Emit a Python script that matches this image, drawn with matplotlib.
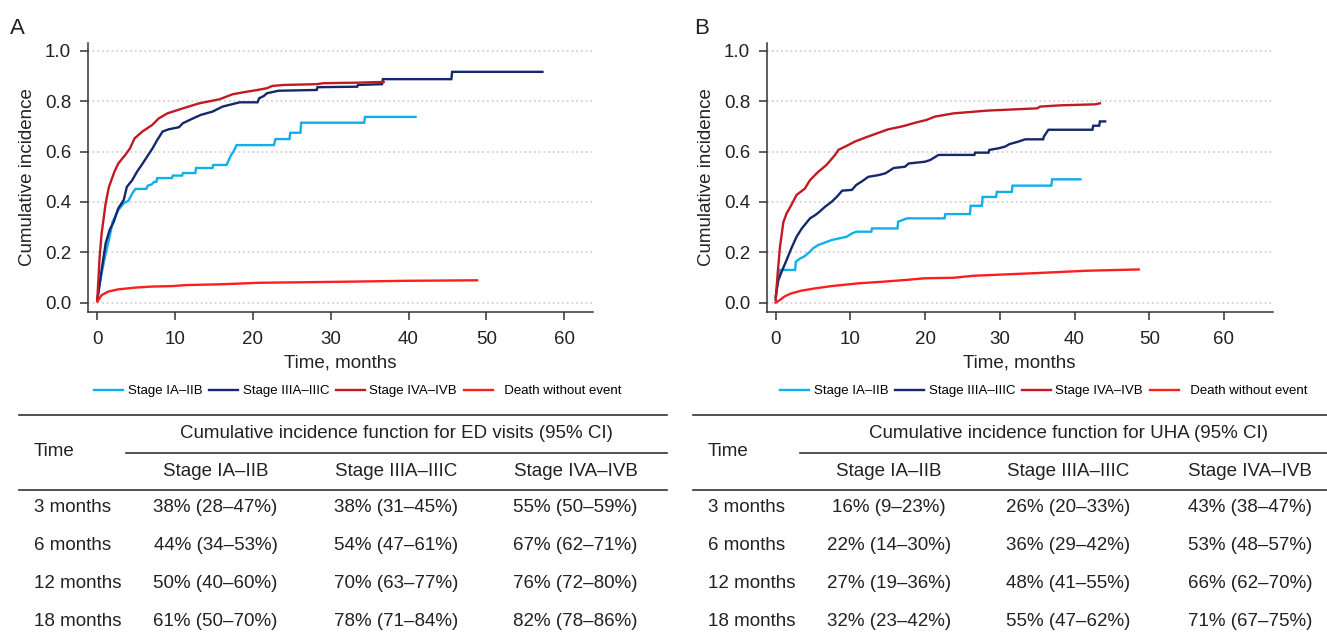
import numpy as np
import matplotlib
matplotlib.use("Agg")
import matplotlib.pyplot as plt
from matplotlib.lines import Line2D

plt.rcParams['font.family'] = ['Liberation Sans', 'DejaVu Sans']

W, H = 1327, 635

# ---- curve data (vertices: months, cumulative incidence)
a_early_t = [0, 0.3, 0.56, 1.08, 1.5, 1.86, 1.95, 2.7, 3.4, 4.0, 4.5, 4.9, 6.3, 6.5, 7.0, 7.3, 7.6, 7.7,
             9.6, 9.7, 10.9, 11.0, 12.6, 12.7, 14.8, 14.9, 16.6, 16.8, 17.2, 17.5, 17.9, 22.7, 22.9,
             24.7, 24.8, 26.1, 26.2, 34.3, 34.4, 40.9]
a_early_y = [0.01, 0.07, 0.117, 0.196, 0.25, 0.302, 0.32, 0.368, 0.395, 0.405, 0.434, 0.452, 0.452, 0.465,
             0.47, 0.48, 0.48, 0.495, 0.495, 0.505, 0.505, 0.515, 0.515, 0.535, 0.535, 0.547, 0.547, 0.56,
             0.587, 0.60, 0.626, 0.626, 0.65, 0.65, 0.675, 0.675, 0.715, 0.715, 0.738, 0.738]

a_mid_t = [0, 0.56, 1.08, 1.6, 2.1, 2.7, 3.4, 3.8, 4.5, 5.1, 5.7, 6.4, 7.1, 7.7, 8.4, 9.2, 10.5, 11.0, 12.3,
           13.3, 14.8, 16.1, 17.4, 18.3, 20.6, 20.8, 21.4, 21.8, 22.7, 23.3, 28.2, 28.3, 33.4, 33.5, 36.6,
           36.7, 45.5, 45.6, 57.2]
a_mid_y = [0.01, 0.13, 0.236, 0.29, 0.32, 0.375, 0.408, 0.46, 0.487, 0.52, 0.547, 0.58, 0.613, 0.646, 0.68,
           0.689, 0.697, 0.713, 0.732, 0.746, 0.759, 0.779, 0.789, 0.796, 0.796, 0.812, 0.821, 0.832, 0.838,
           0.842, 0.845, 0.856, 0.858, 0.865, 0.868, 0.888, 0.888, 0.917, 0.917]

a_late_t = [0, 0.3, 0.56, 1.08, 1.5, 2.2, 2.7, 3.6, 4.2, 4.8, 5.8, 7.06, 7.9, 9.0, 11, 13.1, 15.7, 17.4,
            19.2, 20.6, 21.8, 22.5, 24, 28.2, 29.1, 33.4, 36.8]
a_late_y = [0.01, 0.18, 0.275, 0.395, 0.46, 0.52, 0.553, 0.587, 0.613, 0.653, 0.68, 0.706, 0.732, 0.752,
            0.772, 0.792, 0.808, 0.828, 0.838, 0.845, 0.852, 0.861, 0.865, 0.868, 0.872, 0.874, 0.877]

a_death_t = [0, 0.56, 1.4, 2.7, 4.9, 7, 9.7, 11.4, 15.7, 19.2, 20.6, 31.2, 39.8, 48.8]
a_death_y = [0.004, 0.03, 0.044, 0.053, 0.06, 0.064, 0.066, 0.07, 0.073, 0.077, 0.079, 0.083, 0.087, 0.089]

b_early_t = [0, 0.27, 0.58, 2.6, 2.7, 3.3, 3.9, 4.6, 5.0, 5.7, 7.5, 9.5, 10.2, 10.8, 12.8, 12.9, 16.3,
             16.4, 17.6, 22.6, 22.7, 26.0, 26.1, 27.6, 27.7, 29.5, 29.6, 31.6, 31.7, 36.9, 37.0, 40.8]
b_early_y = [0.01, 0.09, 0.13, 0.13, 0.163, 0.176, 0.185, 0.203, 0.216, 0.229, 0.249, 0.262, 0.275, 0.282,
             0.282, 0.295, 0.295, 0.322, 0.335, 0.335, 0.352, 0.352, 0.385, 0.385, 0.42, 0.42, 0.44, 0.44,
             0.465, 0.465, 0.49, 0.49]

b_mid_t = [0, 0.36, 0.8, 1.47, 2.1, 2.8, 3.5, 4.6, 5.3, 5.9, 6.6, 7.5, 8.2, 8.9, 10.2, 10.8, 11.5, 12.4,
           13.8, 14.7, 15.8, 17.3, 17.8, 20.0, 20.7, 21.8, 26.6, 26.7, 28.5, 28.6, 29.8, 30.7, 31.3, 32.5,
           33.4, 35.8, 35.9, 36.5, 42.4, 42.5, 43.3, 43.4, 44.1]
b_mid_y = [0.024, 0.09, 0.123, 0.17, 0.216, 0.262, 0.295, 0.335, 0.348, 0.362, 0.381, 0.401, 0.421, 0.445,
           0.448, 0.468, 0.481, 0.5, 0.507, 0.514, 0.535, 0.54, 0.553, 0.56, 0.567, 0.587, 0.587, 0.596,
           0.596, 0.607, 0.613, 0.62, 0.63, 0.64, 0.649, 0.649, 0.66, 0.687, 0.687, 0.703, 0.703, 0.72, 0.72]

b_late_t = [0, 0.27, 0.58, 1.03, 1.47, 2.1, 2.8, 3.9, 4.6, 5.7, 6.8, 7.95, 8.4, 9.7, 10.6, 12, 13.3, 15.1,
            16.9, 18.7, 20.2, 21.3, 23.8, 28.3, 35, 35.4, 38.1, 42.8, 43.4]
b_late_y = [0.01, 0.117, 0.222, 0.32, 0.355, 0.388, 0.428, 0.453, 0.487, 0.52, 0.547, 0.587, 0.607, 0.626,
            0.64, 0.656, 0.67, 0.689, 0.7, 0.715, 0.726, 0.739, 0.752, 0.763, 0.772, 0.779, 0.784, 0.788, 0.792]

b_death_t = [0, 0.58, 1.25, 2.1, 3.5, 5.3, 7.5, 11.1, 14.2, 17.3, 20, 23.8, 26.5, 34.5, 41.7, 48.6]
b_death_y = [0.0, 0.011, 0.026, 0.037, 0.048, 0.057, 0.066, 0.077, 0.083, 0.09, 0.097, 0.099, 0.107,
             0.117, 0.127, 0.132]

series_names = ['Stage IA\u2013IIB', 'Stage IIIA\u2013IIIC', 'Stage IVA\u2013IVB', '  Death without event']
series_colors = ['#12AEEA', '#14286B', '#C21A22', '#FF1E1E']

# ---- table data
time_rows = ['3 months', '6 months', '12 months', '18 months']
stage_cols = ['Stage IA\u2013IIB', 'Stage IIIA\u2013IIIC', 'Stage IVA\u2013IVB']
ed_cif = [['38% (28\u201347%)', '38% (31\u201345%)', '55% (50\u201359%)'],
          ['44% (34\u201353%)', '54% (47\u201361%)', '67% (62\u201371%)'],
          ['50% (40\u201360%)', '70% (63\u201377%)', '76% (72\u201380%)'],
          ['61% (50\u201370%)', '78% (71\u201384%)', '82% (78\u201386%)']]
uha_cif = [['16% (9\u201323%)', '26% (20\u201333%)', '43% (38\u201347%)'],
           ['22% (14\u201330%)', '36% (29\u201342%)', '53% (48\u201357%)'],
           ['27% (19\u201336%)', '48% (41\u201355%)', '66% (62\u201370%)'],
           ['32% (23\u201342%)', '55% (47\u201362%)', '71% (67\u201375%)']]


def fx(x):
    return x / W


def fy(y):
    return 1 - y / H


fig = plt.figure(figsize=(W / 100, H / 100), dpi=100)


def make_panel(left, right, xlim, curves, leg_cx, letter, letter_x):
    ax = fig.add_axes([fx(left), fy(311.5), fx(right - left), (311.5 - 43.4) / H])
    for (t, y), col, name in zip(curves, series_colors, series_names):
        ax.plot(t, y, color=col, lw=1.7, label=name, solid_joinstyle='miter')
    ax.set_xlim(*xlim)
    ax.set_ylim(-0.035, 1.03)
    ax.set_xticks(np.arange(0, 61, 10))
    ax.set_yticks(np.arange(0, 1.01, 0.2))
    ax.set_yticklabels([f'{v:.1f}' for v in np.arange(0, 1.01, 0.2)])
    for v in np.arange(0, 1.01, 0.2):
        ax.axhline(v, color='#D2D2D2', lw=1.3, ls=(0, (1, 1.6)), zorder=0)
    for s in ['top', 'right']:
        ax.spines[s].set_visible(False)
    for s in ['left', 'bottom']:
        ax.spines[s].set_color('#333333')
        ax.spines[s].set_linewidth(1.1)
    ax.tick_params(direction='out', length=6, width=1.1, color='#333333',
                   labelsize=13.5, labelcolor='#222222')
    ax.tick_params(axis='x', pad=8)
    ax.tick_params(axis='y', pad=6)
    ax.set_xlabel('Time, months', fontsize=13.5, color='#222222', labelpad=5)
    ax.set_ylabel('Cumulative incidence', fontsize=13.5, color='#222222', labelpad=6)
    ax.legend(loc='center', bbox_to_anchor=(fx(leg_cx), fy(391)), bbox_transform=fig.transFigure,
              ncol=4, frameon=False, fontsize=9.5, handlelength=2.2, handletextpad=0.35,
              columnspacing=0.5, borderaxespad=0)
    fig.text(fx(letter_x), fy(28), letter, fontsize=16, color='#222222', va='center', ha='left')
    return ax


make_panel(87.7, 593, (-1.23, 63.7),
           [(a_early_t, a_early_y), (a_mid_t, a_mid_y), (a_late_t, a_late_y), (a_death_t, a_death_y)],
           358, 'A', 10)
make_panel(766.7, 1272.5, (-1.2, 66.5),
           [(b_early_t, b_early_y), (b_mid_t, b_mid_y), (b_late_t, b_late_y), (b_death_t, b_death_y)],
           1044, 'B', 694)


def hline(x0, x1, y):
    fig.add_artist(Line2D([fx(x0), fx(x1)], [fy(y), fy(y)], color='#333333', lw=1.2))


def draw_table(x0, x1, mid_x0, label_x, col_cx, header, cells):
    txt = dict(fontsize=13.5, color='#222222', va='center')
    hline(x0, x1, 414.5)
    hline(mid_x0, x1, 452.5)
    hline(x0, x1, 490)
    fig.text(fx(label_x), fy(452), 'Time', ha='left', **txt)
    fig.text(fx(col_cx[1]), fy(434), header, ha='center', **txt)
    for cx, name in zip(col_cx, stage_cols):
        fig.text(fx(cx), fy(471), name, ha='center', **txt)
    row_y = [508, 546, 583, 621]
    for ry, lab, row in zip(row_y, time_rows, cells):
        fig.text(fx(label_x), fy(ry), lab, ha='left', **txt)
        for cx, val in zip(col_cx, row):
            fig.text(fx(cx), fy(ry), val, ha='center', **txt)


draw_table(19, 667, 126, 34, [215.5, 396, 575.5],
           'Cumulative incidence function for ED visits (95% CI)', ed_cif)
draw_table(692.5, 1327, 800, 708, [889, 1068.5, 1250],
           'Cumulative incidence function for UHA (95% CI)', uha_cif)

fig.savefig('out.png', dpi=100)
